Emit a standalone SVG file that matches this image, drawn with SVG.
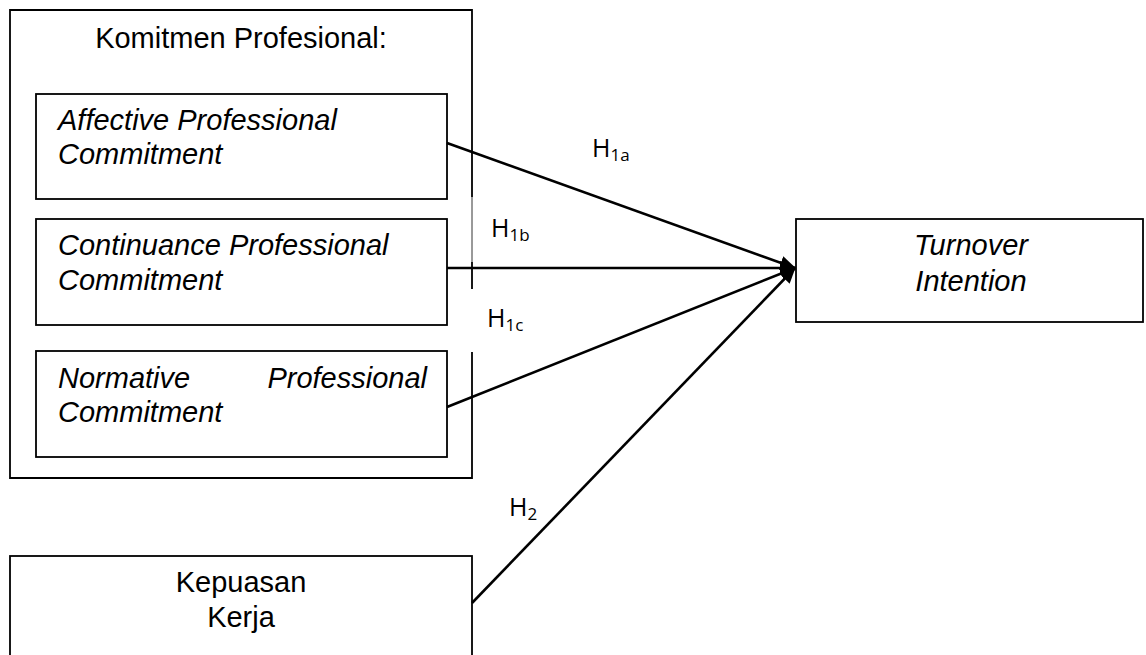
<svg xmlns="http://www.w3.org/2000/svg" width="1146" height="655" viewBox="0 0 1146 655">
<style>
.box{fill:#fff;stroke:#000;stroke-width:1.8}
.t{font-family:"Liberation Sans",Arial,sans-serif;font-size:29px;fill:#000}
.i{font-style:italic}
.h{font-family:"Open Sans","Liberation Sans",sans-serif;font-size:25px;fill:#000}
.sub{font-size:17px}
.edge{stroke:#000;stroke-width:2.6;fill:none;marker-end:url(#ah)}
</style>
<defs>
<marker id="ah" viewBox="0 0 16 14" refX="15" refY="7" markerWidth="16" markerHeight="14" markerUnits="userSpaceOnUse" orient="auto">
<path d="M0,0 L16,7 L0,14 z" fill="#000"/>
</marker>
</defs>
<g id="komitmen-profesional">
<path d="M472,289 L472,10 L10,10 L10,478 L472,478 L472,352" class="box" fill="none"/>
<path d="M472,197 L472,262" stroke="#fff" stroke-width="2"/>
<path d="M472,197 L472,262" stroke="#000" stroke-width="0.8"/>
<text class="t" x="241" y="48" text-anchor="middle">Komitmen Profesional:</text>
</g>
<g id="affective">
<rect class="box" x="36" y="94" width="411" height="105"/>
<text class="t i" x="58" y="130">Affective Professional</text>
<text class="t i" x="58" y="164">Commitment</text>
</g>
<g id="continuance">
<rect class="box" x="36" y="219" width="411" height="106"/>
<text class="t i" x="58" y="255">Continuance Professional</text>
<text class="t i" x="58" y="290">Commitment</text>
</g>
<g id="normative">
<rect class="box" x="36" y="351" width="411" height="106"/>
<text class="t i" x="58" y="388">Normative</text>
<text class="t i" x="427" y="388" text-anchor="end">Professional</text>
<text class="t i" x="58" y="422">Commitment</text>
</g>
<g id="kepuasan-kerja">
<rect class="box" x="10" y="556" width="462" height="110"/>
<text class="t" x="241" y="592" text-anchor="middle">Kepuasan</text>
<text class="t" x="241" y="627" text-anchor="middle">Kerja</text>
</g>
<g id="turnover-intention">
<rect class="box" x="796" y="219" width="347" height="103"/>
<text class="t i" x="971" y="255" text-anchor="middle">Turnover</text>
<text class="t i" x="971" y="291" text-anchor="middle">Intention</text>
</g>
<g id="connectors">
<line class="edge" x1="447" y1="143" x2="795" y2="268"/>
<line class="edge" x1="447" y1="268" x2="795" y2="268"/>
<line class="edge" x1="447" y1="407" x2="795" y2="268"/>
<line class="edge" x1="472" y1="603" x2="795" y2="268"/>
</g>
<g id="labels">
<text class="h" x="592" y="157">H<tspan class="sub" dy="4">1a</tspan></text>
<text class="h" x="491" y="237">H<tspan class="sub" dy="4">1b</tspan></text>
<text class="h" x="487" y="327">H<tspan class="sub" dy="4">1c</tspan></text>
<text class="h" x="509" y="516">H<tspan class="sub" dy="4">2</tspan></text>
</g>
</svg>
